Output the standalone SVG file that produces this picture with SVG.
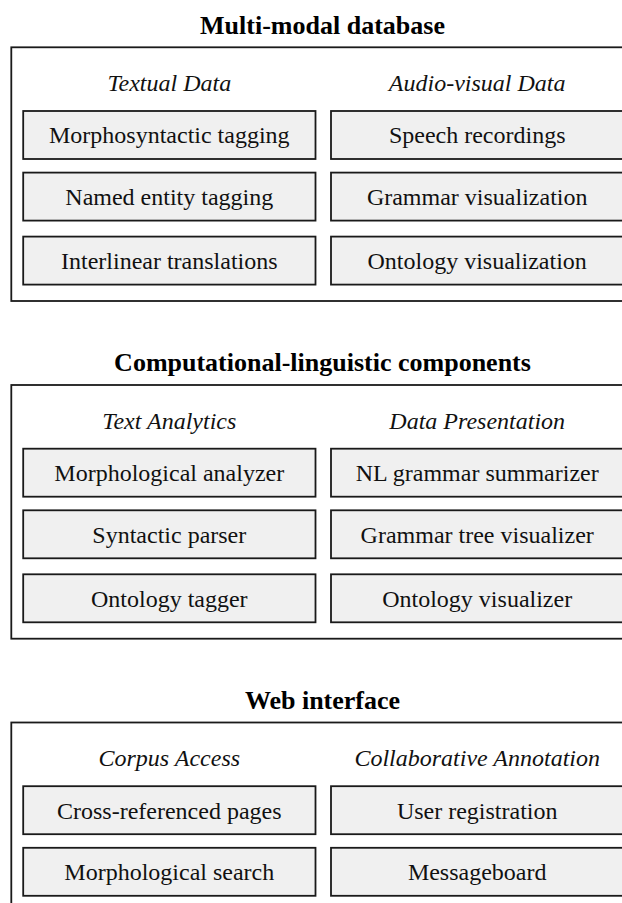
<svg xmlns="http://www.w3.org/2000/svg" width="622" height="903" viewBox="0 0 622 903">
<style>
  .bg { fill: #ffffff; }
  .outer { fill: none; stroke: #1a1a1a; stroke-width: 1.8; }
  .box { fill: #f0f0f0; stroke: #1a1a1a; stroke-width: 1.8; }
  .title { font-family: "Liberation Serif", "Times New Roman", serif; font-weight: bold; font-size: 26px; fill: #000; text-anchor: middle; }
  .head { font-family: "Liberation Serif", "Times New Roman", serif; font-style: italic; font-size: 24px; fill: #111; text-anchor: middle; }
  .lbl { font-family: "Liberation Serif", "Times New Roman", serif; font-size: 24px; fill: #111; text-anchor: middle; }
</style>
<rect class="bg" x="0" y="0" width="622" height="903"/>

<g id="section-multimodal-database">
  <text class="title" x="322.5" y="33.5">Multi-modal database</text>
  <rect class="outer" x="11.3" y="47.3" width="623.7" height="253.7"/>
  <text class="head" x="169.3" y="90.8">Textual Data</text>
  <text class="head" x="477.2" y="90.8">Audio-visual Data</text>
  <g id="n-morphosyntactic-tagging"><rect class="box" x="23.2" y="111" width="292.3" height="48"/><text class="lbl" x="169.3" y="143.3">Morphosyntactic tagging</text></g>
  <g id="n-named-entity-tagging"><rect class="box" x="23.2" y="172.6" width="292.3" height="48"/><text class="lbl" x="169.3" y="204.9">Named entity tagging</text></g>
  <g id="n-interlinear-translations"><rect class="box" x="23.2" y="236.6" width="292.3" height="48"/><text class="lbl" x="169.3" y="268.9">Interlinear translations</text></g>
  <g id="n-speech-recordings"><rect class="box" x="331" y="111" width="292.3" height="48"/><text class="lbl" x="477.2" y="143.3">Speech recordings</text></g>
  <g id="n-grammar-visualization"><rect class="box" x="331" y="172.6" width="292.3" height="48"/><text class="lbl" x="477.2" y="204.9">Grammar visualization</text></g>
  <g id="n-ontology-visualization"><rect class="box" x="331" y="236.6" width="292.3" height="48"/><text class="lbl" x="477.2" y="268.9">Ontology visualization</text></g>
</g>

<g id="section-computational-linguistic-components">
  <text class="title" x="322.5" y="371.2">Computational-linguistic components</text>
  <rect class="outer" x="11.3" y="385" width="623.7" height="253.7"/>
  <text class="head" x="169.3" y="428.5">Text Analytics</text>
  <text class="head" x="477.2" y="428.5">Data Presentation</text>
  <g id="n-morphological-analyzer"><rect class="box" x="23.2" y="448.7" width="292.3" height="48"/><text class="lbl" x="169.3" y="481">Morphological analyzer</text></g>
  <g id="n-syntactic-parser"><rect class="box" x="23.2" y="510.3" width="292.3" height="48"/><text class="lbl" x="169.3" y="542.6">Syntactic parser</text></g>
  <g id="n-ontology-tagger"><rect class="box" x="23.2" y="574.3" width="292.3" height="48"/><text class="lbl" x="169.3" y="606.6">Ontology tagger</text></g>
  <g id="n-nl-grammar-summarizer"><rect class="box" x="331" y="448.7" width="292.3" height="48"/><text class="lbl" x="477.2" y="481">NL grammar summarizer</text></g>
  <g id="n-grammar-tree-visualizer"><rect class="box" x="331" y="510.3" width="292.3" height="48"/><text class="lbl" x="477.2" y="542.6">Grammar tree visualizer</text></g>
  <g id="n-ontology-visualizer"><rect class="box" x="331" y="574.3" width="292.3" height="48"/><text class="lbl" x="477.2" y="606.6">Ontology visualizer</text></g>
</g>

<g id="section-web-interface">
  <text class="title" x="322.5" y="708.7">Web interface</text>
  <rect class="outer" x="11.3" y="722.5" width="623.7" height="253.7"/>
  <text class="head" x="169.3" y="766">Corpus Access</text>
  <text class="head" x="477.2" y="766">Collaborative Annotation</text>
  <g id="n-cross-referenced-pages"><rect class="box" x="23.2" y="786.2" width="292.3" height="48"/><text class="lbl" x="169.3" y="818.5">Cross-referenced pages</text></g>
  <g id="n-morphological-search"><rect class="box" x="23.2" y="847.8" width="292.3" height="48"/><text class="lbl" x="169.3" y="880.1">Morphological search</text></g>
  <g id="n-user-registration"><rect class="box" x="331" y="786.2" width="292.3" height="48"/><text class="lbl" x="477.2" y="818.5">User registration</text></g>
  <g id="n-messageboard"><rect class="box" x="331" y="847.8" width="292.3" height="48"/><text class="lbl" x="477.2" y="880.1">Messageboard</text></g>
</g>

<g id="connectors"></g>
</svg>
